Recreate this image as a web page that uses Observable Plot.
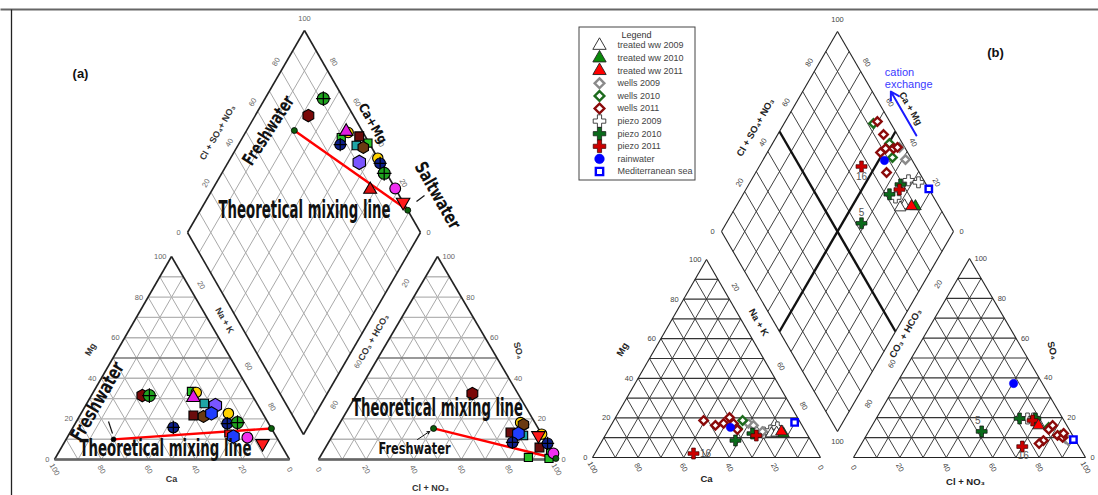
<!DOCTYPE html>
<html><head><meta charset="utf-8">
<script src="https://cdn.jsdelivr.net/npm/d3@7"></script>
<script src="https://cdn.jsdelivr.net/npm/@observablehq/plot@0.6"></script>
<style>body{margin:0;background:#fff;}</style>
</head><body><div id="chart"></div>
<script>
// ================= DATA =================
const ticks = [0, 20, 40, 60, 80, 100];
const gridSteps = [10, 20, 30, 40, 50, 60, 70, 80, 90];

// ---- (a) cation triangle: Ca %, Mg % ----
const aCation = [
  {ca:46.8, mg:31.5, k:"M"}, {ca:43.8, mg:31.5, k:"G+"}, {ca:24.9, mg:33.5, k:"Gsq"},
  {ca:23.1, mg:33.0, k:"Y"}, {ca:25.6, mg:30.5, k:"Mtri"}, {ca:22.4, mg:27.6, k:"Csq"},
  {ca:18.2, mg:26.6, k:"V"}, {ca:30.0, mg:21.7, k:"Msq"}, {ca:26.0, mg:21.2, k:"Br"},
  {ca:21.8, mg:22.7, k:"B"}, {ca:14.6, mg:22.7, k:"Y"}, {ca:41.5, mg:15.8, k:"N+"},
  {ca:17.6, mg:17.7, k:"N+"}, {ca:13.0, mg:18.2, k:"G+"}, {ca:19.6, mg:12.8, k:"Rsq"},
  {ca:18.2, mg:11.3, k:"B"}, {ca:12.5, mg:10.8, k:"Pk"}, {ca:7.5, mg:7.9, k:"Rv"}
];
const aCationMix = [{ca:69.9, mg:9.9, k:"K"}, {ca:0.0, mg:15.3, k:"Dg"}];

// ---- (a) anion triangle: Cl+NO3 %, SO4 % ----
const aAnion = [
  {cl:48.4, so4:32.5, k:"M"}, {cl:75.8, so4:18.2, k:"Y"}, {cl:77.5, so4:17.2, k:"Br"},
  {cl:74.0, so4:13.3, k:"Msq"}, {cl:77.6, so4:12.8, k:"B"}, {cl:80.2, so4:11.8, k:"Csq"},
  {cl:77.3, so4:8.4, k:"N+"}, {cl:87.5, so4:12.5, k:"Y"}, {cl:86.5, so4:11.8, k:"Rv"},
  {cl:89.9, so4:5.9, k:"Msq"}, {cl:92.3, so4:7.9, k:"N+"}, {cl:95.8, so4:3.4, k:"Gsq"},
  {cl:97.2, so4:3.0, k:"Pk"}, {cl:87.7, so4:1.0, k:"Gsq"}, {cl:96.6, so4:0.5, k:"Gsq"}
];
const aAnionMix = [{cl:40.7, so4:15.3, k:"Dg"}, {cl:99.5, so4:0.5, k:"Dg"}];

// ---- (a) diamond: Cl+SO4+NO3 %, Ca+Mg % ----
const aDiamond = [
  {an:91.3, ca:75.0, k:"G+"}, {an:80.7, ca:77.2, k:"M"}, {an:93.6, ca:55.9, k:"Y"},
  {an:93.0, ca:57.0, k:"Mtri"}, {an:89.4, ca:57.6, k:"Gsq"}, {an:97.4, ca:50.2, k:"Msq"},
  {an:87.2, ca:56.3, k:"N+"}, {an:93.9, ca:49.2, k:"Csq"}, {an:96.4, ca:45.7, k:"Br"},
  {an:99.5, ca:44.8, k:"Gsq"}, {an:91.0, ca:43.7, k:"V"}, {an:100, ca:36.8, k:"Y"},
  {an:99.7, ca:34.5, k:"N+"}, {an:99.0, ca:30.3, k:"G+"}, {an:100, ca:21.8, k:"Pk"},
  {an:89.0, ca:32.3, k:"Rtri"}, {an:100, ca:15.0, k:"Rv"}
];
const aDiamondMix = [{an:71.0, ca:79.5, k:"Dg"}, {an:100, ca:11.0, k:"Dg"}];

// ---- (b) legend ----
const legendKeys = ["tw09","tw10","tw11","w09","w10","w11","p09","p10","p11","rain","sea"];
const legendLabels = ["treated ww 2009","treated ww 2010","treated ww 2011","wells 2009","wells 2010",
  "wells 2011","piezo 2009","piezo 2010","piezo 2011","rainwater","Mediterranean sea"];

// ---- (b) cation triangle: Ca %, Mg % ----
const bCation = [
  {ca:18.7, mg:12.6, k:"p09"}, {ca:15.1, mg:13.6, k:"p09"}, {ca:11.3, mg:15.2, k:"p09"},
  {ca:15.5, mg:12.1, k:"tw09"}, {ca:13.0, mg:12.5, k:"tw09"},
  {ca:23.0, mg:17.2, k:"w09"}, {ca:21.3, mg:16.2, k:"w09"}, {ca:18.9, mg:13.1, k:"w09"},
  {ca:24.8, mg:18.7, k:"w10"}, {ca:29.1, mg:14.6, k:"w10"},
  {ca:41.9, mg:18.7, k:"w11"}, {ca:38.0, mg:16.2, k:"w11"}, {ca:33.9, mg:17.2, k:"w11"},
  {ca:29.8, mg:20.2, k:"w11"}, {ca:29.6, mg:17.2, k:"w11"}, {ca:29.4, mg:14.1, k:"w11"},
  {ca:31.9, mg:15.2, k:"rain"},
  {ca:33.0, mg:8.6, k:"p10"}, {ca:23.8, mg:12.1, k:"p10"},
  {ca:22.6, mg:11.1, k:"p11"}, {ca:54.7, mg:2.0, k:"p11", id:"16"},
  {ca:10.2, mg:12.1, k:"tw10"}, {ca:10.6, mg:13.1, k:"tw11"},
  {ca:2.5, mg:17.7, k:"sea"}
];

// ---- (b) anion triangle: Cl+NO3 %, SO4 % ----
const bAnion = [
  {cl:65.2, so4:19.6, k:"p09"}, {cl:67.8, so4:19.6, k:"p09"},
  {cl:86.6, so4:9.5, k:"w09"}, {cl:88.4, so4:8.5, k:"w09"},
  {cl:76.6, so4:15.1, k:"w10"}, {cl:83.7, so4:11.1, k:"w10"},
  {cl:77.6, so4:8.5, k:"w11"}, {cl:77.1, so4:14.1, k:"w11"}, {cl:77.8, so4:16.1, k:"w11"},
  {cl:82.4, so4:11.1, k:"w11"}, {cl:85.1, so4:10.1, k:"w11"}, {cl:84.5, so4:12.1, k:"w11"},
  {cl:76.5, so4:7.0, k:"w11"},
  {cl:48.7, so4:13.1, k:"p10", id:"5"}, {cl:61.8, so4:19.6, k:"p10"}, {cl:68.6, so4:19.6, k:"p10"},
  {cl:67.9, so4:18.6, k:"p11"}, {cl:70.0, so4:5.5, k:"p11", id:"16"},
  {cl:71.7, so4:16.1, k:"tw11"},
  {cl:50.4, so4:37.2, k:"rain"},
  {cl:90.3, so4:9.0, k:"sea"}
];

// ---- (b) diamond: Cl+SO4+NO3 %, Ca+Mg % ----
const bDiamond = [
  {an:93.4, ca:32.2, k:"p09"}, {an:97.2, ca:27.4, k:"p09"}, {an:83.5, ca:33.5, k:"p09"},
  {an:85.4, ca:27.6, k:"tw09"}, {an:83.0, ca:29.0, k:"tw09"},
  {an:97.7, ca:44.3, k:"w09"}, {an:97.3, ca:38.7, k:"w09"},
  {an:92.5, ca:61.5, k:"w10"}, {an:94.4, ca:49.6, k:"w10"}, {an:92.2, ca:44.8, k:"w10"},
  {an:94.7, ca:60.3, k:"w11"}, {an:94.1, ca:54.4, k:"w11"}, {an:91.5, ca:50.0, k:"w11"},
  {an:94.9, ca:46.6, k:"w11"}, {an:96.9, ca:45.2, k:"w11"}, {an:88.3, ca:51.2, k:"w11"},
  {an:85.9, ca:43.6, k:"w11"},
  {an:88.0, ca:47.5, k:"rain"},
  {an:88.9, ca:34.6, k:"p10"}, {an:81.7, ca:36.9, k:"p10"}, {an:62.4, ca:41.7, k:"p10", id:"5"},
  {an:76.6, ca:55.9, k:"p11", id:"16"}, {an:87.2, ca:33.8, k:"p11"},
  {an:89.9, ca:22.7, k:"tw10"}, {an:88.2, ca:24.4, k:"tw11"},
  {an:100, ca:21.3, k:"sea"}
];

// ================= LAYOUT & STYLE =================
const W = 1098, H = 495;
const geoA = {cat:{bl:[54,459], br:[289,459], t:[171,256]},
              an:{bl:[318,459], br:[556,459], t:[437,256]},
              dia:{b:[303,434], l:[187,232], r:[420,232]}};
const geoB = {cat:{bl:[592,457], br:[820,457], t:[706,259]},
              an:{bl:[853,457], br:[1085,457], t:[969,258]},
              dia:{b:[837,431], l:[721,231], r:[953,231]}};

const styleA = {
  "K":   {symbol:"circle", fill:"#000", r:2.4},
  "Dg":  {symbol:"circle", fill:"#0b5e0b", r:3},
  "Rsq": {symbol:"square", fill:"#e81010", r:4},
  "Gsq": {symbol:"square", fill:"#27c027", r:4.6},
  "Y":   {symbol:"circle", fill:"#ffd200", r:5.2},
  "Mtri":{symbol:"triangle", fill:"#e11de1", r:5},
  "Csq": {symbol:"square", fill:"#1fa6a6", r:4.8},
  "M":   {symbol:"hexagon", fill:"#7a0808", r:5.4},
  "Br":  {symbol:"hexagon", fill:"#6b3a12", r:5.2},
  "Msq": {symbol:"square", fill:"#6a0c0c", r:5},
  "V":   {symbol:"hexagon", fill:"#7a55ff", r:6.2},
  "B":   {symbol:"hexagon", fill:"#1f3dff", r:5.8},
  "N+":  {symbol:"circle", fill:"#0d1f8c", r:5.4, plus:true},
  "G+":  {symbol:"circle", fill:"#1fa31f", r:6, plus:true},
  "Pk":  {symbol:"circle", fill:"#f030f0", r:5.4},
  "Rtri":{symbol:"triangle", fill:"#e01010", r:4.8},
  "Rv":  {symbol:"triangle", fill:"#ff1a1a", r:5, rotate:180}
};
const orderA = ["Rsq","Gsq","Y","Mtri","Csq","M","Br","Msq","V","B","N+","G+","Pk","Rtri","Rv","K","Dg"];

const styleB = {
  tw09:{symbol:"triangle", fill:"#ffffff", stroke:"#222", sw:0.9, r:4.3},
  tw10:{symbol:"triangle", fill:"#0a8a0a", stroke:"#222", sw:0.9, r:4.3},
  tw11:{symbol:"triangle", fill:"#ff0000", stroke:"#222", sw:0.9, r:4.3},
  w09: {symbol:"diamond2", fill:"#ffffff", stroke:"#8a8a8a", sw:2.4, r:3.8},
  w10: {symbol:"diamond2", fill:"#ffffff", stroke:"#1d6b1d", sw:2.4, r:3.8},
  w11: {symbol:"diamond2", fill:"#ffffff", stroke:"#8b0a0a", sw:2.4, r:3.8},
  p09: {symbol:"cross", fill:"#ffffff", stroke:"#333", sw:0.9, r:4.6},
  p10: {symbol:"cross", fill:"#0b6b1b", stroke:"#111", sw:0.7, r:4.6},
  p11: {symbol:"cross", fill:"#cc0000", stroke:"#3a0000", sw:0.7, r:4.6},
  rain:{symbol:"circle", fill:"#0000ff", stroke:"#0000ff", sw:0.5, r:4.2},
  sea: {symbol:"square", fill:"#ffffff", stroke:"#0000ff", sw:2.4, r:3.6}
};
const orderB = ["p09","tw09","w09","w10","w11","p10","p11","tw10","tw11","rain","sea"];

// ================= GEOMETRY HELPERS =================
const lerp = (p, q, f) => [p[0] + (q[0]-p[0])*f, p[1] + (q[1]-p[1])*f];
const topOf = D => [D.l[0] + D.r[0] - D.b[0], D.l[1] + D.r[1] - D.b[1]];
const seg = (p, q) => ({x1:p[0], y1:p[1], x2:q[0], y2:q[1]});
function catXY(G, ca, mg) { const T = G.cat, na = 100 - ca - mg;
  return [(ca*T.bl[0] + mg*T.t[0] + na*T.br[0])/100, (ca*T.bl[1] + mg*T.t[1] + na*T.br[1])/100]; }
function anXY(G, cl, so) { const T = G.an, co = 100 - cl - so;
  return [(co*T.bl[0] + so*T.t[0] + cl*T.br[0])/100, (co*T.bl[1] + so*T.t[1] + cl*T.br[1])/100]; }
function diaXY(G, a, c) { const D = G.dia;
  return [D.b[0] + a/100*(D.r[0]-D.b[0]) + c/100*(D.l[0]-D.b[0]),
          D.b[1] + a/100*(D.r[1]-D.b[1]) + c/100*(D.l[1]-D.b[1])]; }

function triGrid(T) { const h = [], o = [], mid = [];
  for (const v of gridSteps) { const f = v/100;
    (v === 50 ? mid : h).push(seg(lerp(T.bl,T.t,f), lerp(T.br,T.t,f)));
    o.push(seg(lerp(T.bl,T.br,f), lerp(T.t,T.br,f)));
    o.push(seg(lerp(T.bl,T.br,f), lerp(T.bl,T.t,f))); }
  return {h, o, mid}; }
function diaGrid(D) { const T = topOf(D), s = [], mid = [];
  for (const v of gridSteps) { const f = v/100;
    (v === 50 ? mid : s).push(seg(lerp(D.b,D.r,f), lerp(D.l,T,f)));
    (v === 50 ? mid : s).push(seg(lerp(D.b,D.l,f), lerp(D.r,T,f))); }
  return {s, mid}; }
const triEdges = T => [seg(T.bl,T.br), seg(T.br,T.t), seg(T.t,T.bl)];
const diaEdges = D => { const T = topOf(D); return [seg(D.b,D.r), seg(D.r,T), seg(T,D.l), seg(D.l,D.b)]; };

const L = (data, o) => Plot.link(data, {x1:"x1", y1:"y1", x2:"x2", y2:"y2", ...o});

function tickLabels(G, withBottom100) {
  const C = G.cat, A = G.an, D = G.dia, T = topOf(D);
  const end = [], start = [], mid = [];
  for (const v of ticks) {
    let p = lerp(C.bl, C.t, v/100); end.push({x:p[0]-5, y:p[1], t:String(v), r:0});
    p = lerp(C.br, C.bl, v/100); mid.push({x:p[0], y:p[1]+10, t:String(v), r:60});
    p = lerp(A.br, A.t, v/100); start.push({x:p[0]+5, y:p[1], t:String(v), r:0});
    p = lerp(A.bl, A.br, v/100); mid.push({x:p[0], y:p[1]+10, t:String(v), r:60});
    if (v === 20 || v === 60 || v === 80) {
      p = lerp(C.t, C.br, v/100); mid.push({x:p[0]+6, y:p[1]-12, t:String(v), r:60});
      p = lerp(A.t, A.bl, v/100); mid.push({x:p[0]-8, y:p[1]-14, t:String(v), r:-60});
    }
    if (v < 100) {
      p = lerp(D.l, T, v/100);
      mid.push(v === 0 ? {x:p[0]-9, y:p[1], t:"0", r:0} : {x:p[0]-5, y:p[1]-9, t:String(v), r:-60});
      p = lerp(D.r, T, v/100);
      mid.push(v === 0 ? {x:p[0]+8, y:p[1], t:"0", r:0} : {x:p[0]+6, y:p[1]-9, t:String(v), r:60});
    }
  }
  mid.push({x:T[0], y:T[1]-12, t:"100", r:0});
  if (withBottom100) mid.push({x:D.b[0], y:D.b[1]+10, t:"100", r:0});
  return {end, start, mid};
}

function dotMarks(data, pos, styles, order, defStroke, defSw) {
  const out = [];
  for (const k of order) {
    const s = styles[k], sub = data.filter(d => d.k === k);
    if (!sub.length) continue;
    const o = {x: d => pos(d)[0], y: d => pos(d)[1], symbol: s.symbol, r: s.r, fill: s.fill,
               stroke: s.stroke ?? defStroke, strokeWidth: s.sw ?? defSw};
    if (s.rotate) o.rotate = s.rotate;
    out.push(Plot.dot(sub, o));
    if (s.plus) out.push(Plot.dot(sub, {x: d => pos(d)[0], y: d => pos(d)[1], symbol:"plus",
               r: s.r*0.8, stroke:"#000", strokeWidth:1.2}));
  }
  return out;
}

const TXT = (data, o) => Plot.text(data, {x:"x", y:"y", text:"t", rotate:"r", ...o});
// heavy condensed annotation text; its drawn width is fitted after rendering (see fitWidths)
const fitWidths = new Map();
const heavy = (t, x, y, r, size, len) => {
  fitWidths.set(t + "|" + size, len);
  return Plot.text([{x, y, t, r}], {x:"x", y:"y", text:"t", rotate:"r",
    fontSize:size, fontWeight:"bold", fontFamily:"DejaVu Sans Condensed, Liberation Sans Narrow, sans-serif",
    fill:"#111"});
};

// ================= MARKS =================
const marks = [];
// frame
marks.push(L([{x1:0, y1:9, x2:W, y2:9}], {stroke:"#666", strokeWidth:2}));
marks.push(L([{x1:11, y1:9, x2:11, y2:H}], {stroke:"#222", strokeWidth:1.3}));

// ---------- diagram (a) grids ----------
{
  const g1 = triGrid(geoA.cat), g2 = triGrid(geoA.an), gd = diaGrid(geoA.dia);
  const gridStyle = {stroke:"#a9a9a9", strokeWidth:1};
  marks.push(L([...g1.o, ...g2.o, ...gd.s], gridStyle));
  marks.push(L([...g1.h, ...g2.h], {stroke:"#b4b4b4", strokeWidth:1.4}));
  marks.push(L([...g1.mid, ...g2.mid], {stroke:"#777", strokeWidth:1.6}));
  marks.push(L(gd.mid, gridStyle));
  marks.push(L([...triEdges(geoA.cat), ...triEdges(geoA.an), ...diaEdges(geoA.dia)], {stroke:"#222", strokeWidth:1.6}));
  marks.push(L([seg(geoA.cat.bl, geoA.cat.br), seg(geoA.an.bl, geoA.an.br)], {stroke:"#666", strokeWidth:2.6}));
}
// ---------- diagram (b) grids ----------
{
  const g1 = triGrid(geoB.cat), g2 = triGrid(geoB.an), gd = diaGrid(geoB.dia);
  const gridStyle = {stroke:"#2a2a2a", strokeWidth:0.9};
  marks.push(L([...g1.o, ...g2.o, ...gd.s], gridStyle));
  marks.push(L([...g1.h, ...g2.h, ...g1.mid, ...g2.mid], {stroke:"#333", strokeWidth:1.2}));
  marks.push(L(gd.mid, {stroke:"#111", strokeWidth:2.4}));
  marks.push(L([...triEdges(geoB.cat), ...triEdges(geoB.an), ...diaEdges(geoB.dia)], {stroke:"#222", strokeWidth:1.1}));
}

// ---------- tick labels ----------
for (const [G, fill, b100] of [[geoA, "#666", false], [geoB, "#444", true]]) {
  const tl = tickLabels(G, b100);
  const o = {fontSize:7.5, fill, fontFamily:"Liberation Sans, Arial, sans-serif"};
  marks.push(TXT(tl.end, {...o, textAnchor:"end"}));
  marks.push(TXT(tl.start, {...o, textAnchor:"start"}));
  marks.push(TXT(tl.mid, {...o, textAnchor:"middle"}));
}

// ---------- axis titles ----------
const axisA = [
  {x:217, y:132, t:"Cl + SO₄+ NO₃", r:-60}, {x:224, y:320, t:"Na + K", r:60},
  {x:90, y:349, t:"Mg", r:-60}, {x:171, y:479, t:"Ca", r:0},
  {x:373, y:337, t:"CO₃ + HCO₃", r:-60}, {x:518, y:350, t:"SO₄", r:75},
  {x:430, y:488, t:"Cl + NO₃", r:0}
];
const axisB = [
  {x:755, y:127, t:"Cl + SO₄+ NO₃", r:-60}, {x:910, y:108, t:"Ca + Mg", r:60},
  {x:758, y:322, t:"Na + K", r:60}, {x:905, y:333, t:"CO₃ + HCO₃", r:-60},
  {x:622, y:349, t:"Mg", r:-60}, {x:1052, y:350, t:"SO₄", r:75},
  {x:706, y:478, t:"Ca", r:0}, {x:965, y:481, t:"Cl + NO₃", r:0}
];
marks.push(TXT(axisA, {fontSize:9, fontWeight:"bold", fill:"#333", fontFamily:"Liberation Sans, Arial, sans-serif"}));
marks.push(TXT(axisB, {fontSize:9.5, fontWeight:"bold", fill:"#222", fontFamily:"Liberation Sans, Arial, sans-serif"}));
marks.push(TXT([{x:80, y:73, t:"(a)", r:0}, {x:995, y:52, t:"(b)", r:0}],
  {fontSize:13, fontWeight:"bold", fill:"#111", fontFamily:"Liberation Sans, Arial, sans-serif"}));

// ---------- (a) mixing lines + points ----------
const pCA = d => catXY(geoA, d.ca, d.mg), pAA = d => anXY(geoA, d.cl, d.so4), pDA = d => diaXY(geoA, d.an, d.ca);
const mixLine = (mix, pos) => L([seg(pos(mix[0]), pos(mix[1]))], {stroke:"#ff0000", strokeWidth:2.4});
marks.push(mixLine(aCationMix, pCA), mixLine(aAnionMix, pAA), mixLine(aDiamondMix, pDA));
marks.push(...dotMarks(aCation, pCA, styleA, orderA, "#000", 1.1));
marks.push(...dotMarks(aAnion, pAA, styleA, orderA, "#000", 1.1));
marks.push(...dotMarks(aDiamond, pDA, styleA, orderA, "#000", 1.1));
marks.push(...dotMarks(aCationMix, pCA, styleA, orderA, "#000", 0.8));
marks.push(...dotMarks(aAnionMix, pAA, styleA, orderA, "#000", 0.8));
marks.push(...dotMarks(aDiamondMix, pDA, styleA, orderA, "#000", 0.8));

// ---------- (a) annotations ----------
marks.push(heavy("Theoretical mixing line", 304, 209, 0, 25, 172));
marks.push(heavy("Theoretical mixing line", 165, 448, 0, 23, 172));
marks.push(heavy("Theoretical mixing line", 437, 408, 0, 24, 171));
marks.push(heavy("Freshwater", 97, 401, -60, 19, 88));
marks.push(heavy("Freshwater", 268, 130, -57, 18, 79));
marks.push(heavy("Freshwater", 414, 448, 0, 16, 72));
marks.push(heavy("Saltwater", 437, 195, 60, 18, 74));
marks.push(heavy("Ca+Mg", 372, 123, 60, 13, 44));
marks.push(L([{x1:108, y1:421, x2:112, y2:433}, {x1:424, y1:195, x2:416, y2:201}], {stroke:"#111", strokeWidth:1.2}));
marks.push(Plot.arrow([{x1:417, y1:439, x2:429, y2:431}], {x1:"x1", y1:"y1", x2:"x2", y2:"y2", stroke:"#111", strokeWidth:1, headLength:4}));

// ---------- (b) points ----------
const pCB = d => catXY(geoB, d.ca, d.mg), pAB = d => anXY(geoB, d.cl, d.so4), pDB = d => diaXY(geoB, d.an, d.ca);
marks.push(...dotMarks(bCation, pCB, styleB, orderB, "#222", 1));
marks.push(...dotMarks(bAnion, pAB, styleB, orderB, "#222", 1));
marks.push(...dotMarks(bDiamond, pDB, styleB, orderB, "#222", 1));

// sample id labels
const idOff = {cat:{"16":[12,0], "5":[2,-11]}, an:{"16":[1,9], "5":[-4,-11]}, dia:{"16":[0,10], "5":[0,-11]}};
const idLabels = [];
for (const [data, pos, key] of [[bCation, pCB, "cat"], [bAnion, pAB, "an"], [bDiamond, pDB, "dia"]])
  for (const d of data) if (d.id) { const p = pos(d), o = idOff[key][d.id];
    idLabels.push({x:p[0]+o[0], y:p[1]+o[1], t:d.id, r:0}); }
marks.push(TXT(idLabels, {fontSize:10, fill:"#555", fontFamily:"Liberation Sans, Arial, sans-serif"}));

// cation exchange arrow
{
  const p1 = diaXY(geoB, 108, 40), p2 = diaXY(geoB, 108, 62);
  marks.push(Plot.arrow([{x1:p1[0], y1:p1[1], x2:p2[0], y2:p2[1]}], {x1:"x1", y1:"y1", x2:"x2", y2:"y2",
    stroke:"#1a1aff", strokeWidth:2, headLength:7}));
  marks.push(TXT([{x:p2[0]-6, y:p2[1]-19, t:"cation", r:0}, {x:p2[0]-6, y:p2[1]-7, t:"exchange", r:0}],
    {fontSize:11, fill:"#3b3bff", textAnchor:"start", fontFamily:"Liberation Sans, Arial, sans-serif"}));
}

// ---------- (b) legend ----------
{
  const lx = 579, ly = 27, rowY = i => 45 + i*12.6;
  marks.push(Plot.rect([{x1:lx, x2:695, y1:ly, y2:180}], {x1:"x1", x2:"x2", y1:"y1", y2:"y2", fill:"#fff", stroke:"#444", strokeWidth:1}));
  marks.push(TXT([{x:636, y:35, t:"Legend", r:0}], {fontSize:9, fill:"#333", fontFamily:"Liberation Sans, Arial, sans-serif"}));
  const rows = legendKeys.map((k, i) => ({k, x:599, y:rowY(i), t:legendLabels[i], r:0}));
  for (const row of rows) {
    const s = styleB[row.k];
    marks.push(Plot.dot([row], {x:"x", y:"y", symbol:s.symbol, r:s.r*1.15, fill:s.fill, stroke:s.stroke, strokeWidth:s.sw}));
  }
  marks.push(TXT(rows.map(r => ({...r, x:617})), {fontSize:9, fill:"#444", textAnchor:"start", fontFamily:"Liberation Sans, Arial, sans-serif"}));
}

// ================= PLOT =================
const svg = Plot.plot({
  width: W, height: H, margin: 0,
  x: {domain:[0, W], range:[0, W], axis:null},
  y: {domain:[0, H], range:[0, H], axis:null},
  style: {background:"#fff", fontFamily:"Liberation Sans, Arial, sans-serif"},
  marks
});
d3.select(svg).selectAll("text").each(function() {
  const g = this.closest("g[font-size]");
  const fs = g ? g.getAttribute("font-size") : this.getAttribute("font-size");
  const len = fitWidths.get(this.textContent + "|" + fs);
  if (len) { this.setAttribute("textLength", len); this.setAttribute("lengthAdjust", "spacingAndGlyphs"); }
});
document.getElementById("chart").appendChild(svg);
</script>
</body></html>
